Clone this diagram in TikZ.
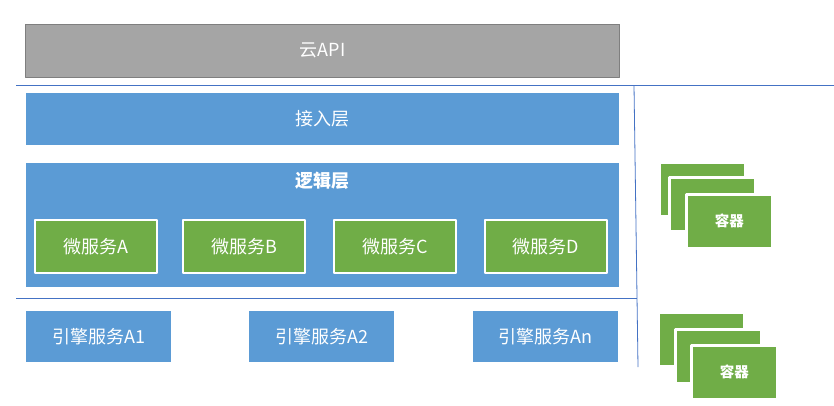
\documentclass[tikz,border=0pt]{standalone}
\usepackage{fontspec}
\setmainfont{Noto Sans CJK SC}
\usetikzlibrary{positioning}
\definecolor{apigray}{HTML}{A5A5A5}
\definecolor{apiedge}{HTML}{7F7F7F}
\definecolor{layerblue}{HTML}{5B9BD5}
\definecolor{servgreen}{HTML}{70AD47}
\definecolor{sepline}{HTML}{4472C4}
\begin{document}
\begin{tikzpicture}[x=1pt, y=-1pt, line join=round, font=\fontsize{18}{21}\selectfont,
	layer/.style={fill=layerblue, text=white, inner sep=0pt, anchor=north west},
	micro/.style={fill=servgreen, draw=white, line width=2pt, text=white, inner sep=0pt,
		minimum width=122pt, minimum height=53pt, anchor=north west},
	engine/.style={layer, minimum width=145pt, minimum height=51pt},
	cbox/.style={fill=servgreen, draw=white, line width=2.5pt, text=white, inner sep=0pt,
		minimum width=86pt, minimum height=54pt, anchor=north west,
		font=\fontsize{14.5}{17}\selectfont\bfseries}]
	\useasboundingbox (0,0) rectangle (834,405);
	% cloud api and layers
	\node[fill=apigray, draw=apiedge, line width=1pt, text=white, inner sep=0pt, anchor=north west,
		minimum width=594pt, minimum height=53pt] (api) at (25,23.5) {云API};
	\node[layer, minimum width=593pt, minimum height=52pt] (access) at (25.5,93) {接入层};
	\node[layer, minimum width=593pt, minimum height=124pt] (logic) at (25.5,163) {};
	\node[text=white, font=\fontsize{18}{21}\selectfont\bfseries, below=6pt of logic.north] (logictitle) {逻辑层};
	\foreach \n/\x in {A/34,B/182,C/333,D/484}
		\node[micro] (ms\n) at (\x,219) {微服务\n};
	\foreach \n/\x in {A1/26,A2/249,An/473}
		\node[engine] (eng\n) at (\x,311) {引擎服务\n};
	% separators
	\draw[sepline, line width=0.8pt] (16,85.5)--(834,85.5);
	\draw[sepline, line width=0.8pt] (16,298)--(637,298);
	\draw[sepline, line width=0.8pt] (634,85.5)--(638,367);
	% container stacks
	\node[cbox] (ctopc) at (658,161) {};
	\node[cbox] (ctopb) at (668,176) {};
	\node[cbox] (ctopa) at (685,193) {容器};
	\node[cbox] (cbotc) at (657,311) {};
	\node[cbox] (cbotb) at (674,328) {};
	\node[cbox] (cbota) at (690,344) {容器};
\end{tikzpicture}
\end{document}
